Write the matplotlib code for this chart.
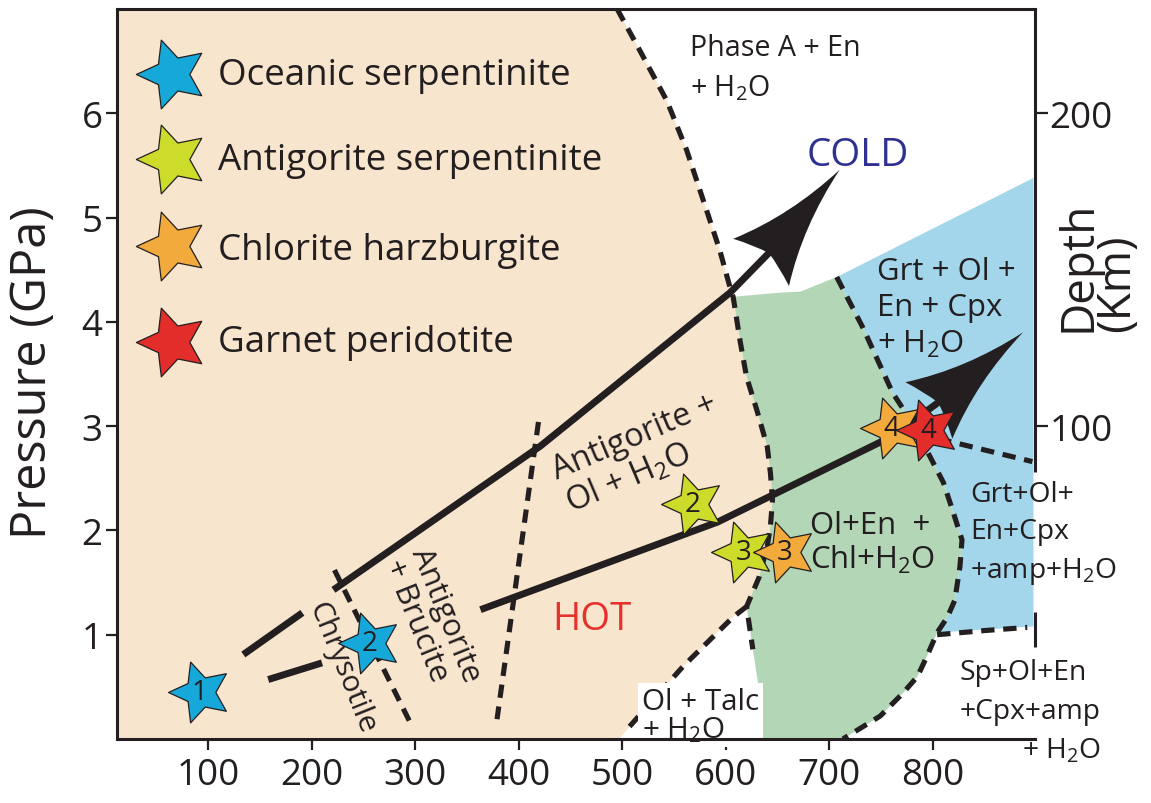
import numpy as np
import matplotlib
matplotlib.use("Agg")
import matplotlib.pyplot as plt
from matplotlib.path import Path
from matplotlib.patches import PathPatch, Polygon
from matplotlib.markers import MarkerStyle

plt.rcParams['font.family'] = ['Open Sans', 'DejaVu Sans']
plt.rcParams['mathtext.fontset'] = 'custom'
plt.rcParams['mathtext.rm'] = 'Open Sans'
plt.rcParams['mathtext.it'] = 'Open Sans:italic'
plt.rcParams['mathtext.bf'] = 'Open Sans:bold'

INK = '#231F20'

# ---------------- data (T in degC, P in GPa) ----------------
temp_ticks = [100, 200, 300, 400, 500, 600, 700, 800]
pressure_ticks = [1, 2, 3, 4, 5, 6]
depth_ticks = [100, 200]

# serpentinite stability field (peach)
serp_T = [12, 12, 495, 517, 543, 562, 578, 594, 604, 607, 614, 620, 630, 640, 643, 645,
          643, 640, 632, 620, 607, 559, 507, 497]
serp_P = [0, 7.0, 7.0, 6.60, 6.12, 5.65, 5.17, 4.69, 4.33, 4.24, 3.80, 3.47, 3.15, 2.80, 2.55, 2.29,
          2.04, 1.85, 1.55, 1.27, 1.17, 0.70, 0.12, 0]

# chlorite harzburgite field (green)
chl_T = [607, 652, 672, 707, 732, 761, 776, 797, 810, 819, 828, 826, 821, 814, 804, 794, 785,
         771, 749, 713, 634, 631, 626, 620, 632, 640, 643, 645, 643, 640, 630, 620, 614]
chl_P = [4.24, 4.28, 4.29, 4.43, 3.95, 3.32, 3.09, 2.71, 2.46, 2.19, 1.91, 1.65, 1.33, 1.17, 1.02,
         0.79, 0.60, 0.44, 0.22, 0, 0, 0.54, 0.86, 1.27, 1.55, 1.85, 2.04, 2.29, 2.55, 2.80, 3.15,
         3.47, 3.80]

# garnet peridotite field (blue)
grt_T = [707, 897, 897, 850, 804, 814, 821, 826, 828, 819, 810, 797, 776, 761, 732]
grt_P = [4.43, 5.38, 1.08, 1.05, 1.02, 1.17, 1.33, 1.65, 1.91, 2.19, 2.46, 2.71, 3.09, 3.32, 3.95]

# dashed reaction boundaries
atg_out_T = [495, 517, 543, 562, 578, 594, 604, 607, 614, 620, 630, 640, 643, 645, 643, 640, 632, 620, 626]
atg_out_P = [7.0, 6.60, 6.12, 5.65, 5.17, 4.69, 4.33, 4.24, 3.80, 3.47, 3.15, 2.80, 2.55, 2.29, 2.04,
             1.85, 1.55, 1.27, 0.86]
talc_T = [507, 559, 607, 620]
talc_P = [0.12, 0.70, 1.17, 1.27]
chl_out_T = [707, 732, 761, 776, 797, 810, 819, 828, 826, 821, 814, 804, 794, 785, 771, 749, 713]
chl_out_P = [4.43, 3.95, 3.32, 3.09, 2.71, 2.46, 2.19, 1.91, 1.65, 1.33, 1.17, 1.02, 0.79, 0.60, 0.44, 0.22, 0]
spinel_T = [804, 850, 891]
spinel_P = [1.00, 1.04, 1.07]
amph_T = [805, 896]
amph_P = [2.88, 2.66]
ctl_T = [222, 295]
ctl_P = [1.62, 0.16]
brc_T = [419, 379]
brc_P = [3.04, 0.19]

# subduction P-T paths (second-last point = arrow-head base, last point = tip)
cold_T1, cold_P1 = [134, 191], [0.81, 1.21]
cold_T2 = [221, 421, 604, 634, 710]
cold_P2 = [1.43, 2.81, 4.28, 4.57, 5.46]
hot_T1, hot_P1 = [158, 210], [0.57, 0.73]
hot_T2 = [363, 592, 760, 796, 887]
hot_P2 = [1.24, 2.08, 2.90, 3.15, 3.90]

# rock types and samples
rock_names = ['Oceanic serpentinite', 'Antigorite serpentinite', 'Chlorite harzburgite', 'Garnet peridotite']
rock_colors = ['#16A8D8', '#CDDB2A', '#F2AA3D', '#E22D2B']
samp_T = [92, 256, 568, 617, 657, 760, 795]
samp_P = [0.45, 0.92, 2.25, 1.79, 1.79, 2.98, 2.96]
samp_rock = [0, 0, 1, 1, 2, 2, 3]
samp_id = ['1', '2', '2', '3', '3', '4', '4']

# ---------------- figure ----------------
W, H = 1151, 804
fig = plt.figure(figsize=(W / 100, H / 100), dpi=100)
ax = fig.add_axes([117 / W, 1 - 740 / H, (1035 - 117) / W, 730 / H])
ax.set_xlim(12, 898.5)
ax.set_ylim(0, 7)
ax.set_facecolor('white')

ax.add_patch(Polygon(np.column_stack([serp_T, serp_P]), closed=True, fc='#F8E5CE', ec='none', zorder=1))
ax.add_patch(Polygon(np.column_stack([chl_T, chl_P]), closed=True, fc='#B3D7B6', ec='none', zorder=1))
ax.add_patch(Polygon(np.column_stack([grt_T, grt_P]), closed=True, fc='#A3D5EB', ec='none', zorder=1))

dash_kw = dict(color=INK, lw=3.7, linestyle=(0, (2.6, 1.7)), zorder=2)
for xs, ys in [(atg_out_T, atg_out_P), (talc_T, talc_P), (chl_out_T, chl_out_P),
               (spinel_T, spinel_P), (amph_T, amph_P), (ctl_T, ctl_P), (brc_T, brc_P)]:
    ax.plot(xs, ys, **dash_kw)

shaft_kw = dict(color=INK, lw=5.0, solid_capstyle='butt', solid_joinstyle='round', zorder=3)


def arrow_path(ax, T, P, throat=0.9, half_width_frac=0.3):
    """Shaft through T[:-2], P[:-2] up to the throat of a concave head
    whose base is (T[-2], P[-2]) and tip is (T[-1], P[-1])."""
    tr = ax.transData
    base = tr.transform((T[-2], P[-2]))
    tip = tr.transform((T[-1], P[-1]))
    vec = tip - base
    length = np.hypot(*vec)
    u = vec / length
    n = np.array([-u[1], u[0]])
    hw = half_width_frac * length

    def pt(a, b):
        return tip - a * length * u + b * hw * n
    thr = tr.inverted().transform(pt(throat - 0.02, 0))
    ax.plot(list(T[:-2]) + [thr[0]], list(P[:-2]) + [thr[1]], **shaft_kw)
    verts = [pt(0, 0), pt(0.55, 0.22), pt(1, 1), pt(0.93, 0.45), pt(throat, 0),
             pt(0.93, -0.45), pt(1, -1), pt(0.55, -0.22), pt(0, 0), pt(0, 0)]
    codes = [Path.MOVETO] + [Path.CURVE3] * 8 + [Path.CLOSEPOLY]
    vd = tr.inverted().transform(np.array(verts))
    ax.add_patch(PathPatch(Path(vd, codes), fc=INK, ec='none', zorder=3))


ax.plot(cold_T1, cold_P1, **shaft_kw)
arrow_path(ax, cold_T2, cold_P2)
ax.plot(hot_T1, hot_P1, **shaft_kw)
arrow_path(ax, hot_T2, hot_P2)

# star marker pointing left
ang_out = np.deg2rad(180 + 72 * np.arange(5))
ang_in = ang_out + np.deg2rad(36)
r_in = 0.48
sv = []
for a, b in zip(ang_out, ang_in):
    sv.append((np.cos(a), np.sin(a)))
    sv.append((r_in * np.cos(b), r_in * np.sin(b)))
sv.append(sv[0])
star = MarkerStyle(Path(sv, [Path.MOVETO] + [Path.LINETO] * 9 + [Path.CLOSEPOLY]))

for i, (t, p, r, s) in enumerate(zip(samp_T, samp_P, samp_rock, samp_id)):
    ax.plot([t], [p], marker=star, ms=46, mfc=rock_colors[r], mec=INK, mew=0.9,
            linestyle='none', zorder=5 + 0.1 * i)
    ax.text(t, p, s, fontsize=20, color=INK, ha='center', va='center', zorder=5.05 + 0.1 * i)

# legend
leg_star_y = [0.911, 0.795, 0.675, 0.544]
leg_text_y = [0.897, 0.781, 0.658, 0.532]
for name, col, ys, yt in zip(rock_names, rock_colors, leg_star_y, leg_text_y):
    ax.plot([0.060], [ys], transform=ax.transAxes, marker=star, ms=52, mfc=col, mec=INK,
            mew=0.9, linestyle='none', zorder=6, clip_on=False)
    ax.text(0.110, yt, name, transform=ax.transAxes, fontsize=26.5, color=INK,
            ha='left', va='baseline', zorder=6)

H2O = 'H$_\\mathregular{2}$O'
ax.text(565, 6.17, 'Phase A + En\n+ ' + H2O, fontsize=20.6, color=INK, ha='left', va='baseline',
        linespacing=1.45, zorder=4)
ax.text(727, 5.50, 'COLD', fontsize=27.7, color='#2E3192', ha='center', va='baseline', zorder=4)
ax.text(471, 1.05, 'HOT', fontsize=27.5, color='#E5322D', ha='center', va='baseline', zorder=4)
ax.text(746, 3.71, 'Grt + Ol +\nEn + Cpx\n+ ' + H2O, fontsize=22.4, color=INK, ha='left',
        va='baseline', linespacing=1.25, zorder=4)
ax.text(681, 1.64, 'Ol+En  +\nChl+' + H2O, fontsize=22.4, color=INK, ha='left', va='baseline',
        linespacing=1.13, zorder=4)
ax.text(836, 1.55, 'Grt+Ol+\nEn+Cpx\n+amp+' + H2O, fontsize=20.3, color=INK, ha='left',
        va='baseline', linespacing=1.45, zorder=4)
ax.text(826, 0.205, 'Sp+Ol+En\n+Cpx+amp', fontsize=20.3, color=INK, ha='left', va='baseline',
        linespacing=1.5, zorder=4)
ax.text(886, -0.18, '+ ' + H2O, fontsize=20.3, color=INK, ha='left', va='baseline', zorder=4)
ax.text(519, 0.02, 'Ol + Talc\n+ ' + H2O, fontsize=21.3, color=INK, ha='left', va='baseline',
        linespacing=0.92, zorder=4,
        bbox=dict(fc='white', ec='none', boxstyle='square,pad=0.12'))
ax.text(229, 0.69, 'Chrysotile', fontsize=21.5, color=INK, ha='center', va='center',
        rotation=-68, rotation_mode='anchor', zorder=4)
ax.text(316, 1.14, 'Antigorite\n+ Brucite', fontsize=22.4, color=INK, ha='center', va='center',
        multialignment='left', rotation=-68, rotation_mode='anchor', linespacing=1.0, zorder=4)
ax.text(519, 2.74, 'Antigorite +\nOl + ' + H2O, fontsize=23.5, color=INK, ha='center', va='center',
        multialignment='left', rotation=23, rotation_mode='anchor', linespacing=1.05, zorder=4)

# axes styling
for side in ['left', 'top', 'bottom']:
    ax.spines[side].set_linewidth(2.2)
    ax.spines[side].set_color(INK)
    ax.spines[side].set_zorder(7)
ax.spines['right'].set_visible(False)
for y0, y1 in [(2.56, 7.0), (0.885, 1.22)]:
    ax.plot([1, 1], [y0, y1], transform=ax.get_yaxis_transform(), color=INK, lw=2.2,
            solid_capstyle='butt', clip_on=False, zorder=7)

ax.set_xticks(temp_ticks)
ax.set_yticks(pressure_ticks)
ax.tick_params(axis='both', direction='out', length=8, width=1.6, color=INK, labelcolor=INK,
               labelsize=26.5)
ax.tick_params(axis='x', pad=5)
ax.tick_params(axis='y', pad=2.5)

ax.set_ylabel('Pressure (GPa)', fontsize=35, color=INK)
ax.yaxis.label.set_verticalalignment('center')
ax.yaxis.set_label_coords(-0.0915, 0.503)

sec = ax.secondary_yaxis('right', functions=(lambda p: p * 100 / 3, lambda d: d * 3 / 100))
sec.set_yticks(depth_ticks)
sec.spines['right'].set_visible(False)
sec.tick_params(axis='y', direction='out', length=9, width=1.6, color=INK, labelcolor=INK,
                labelsize=26.5, pad=1.5)
ax.text(1.0686, 0.6486, 'Depth\n(Km)', transform=ax.transAxes, fontsize=33, color=INK,
        rotation=90, ha='center', va='center', multialignment='left', linespacing=0.8)

fig.savefig('out.png', dpi=100)
